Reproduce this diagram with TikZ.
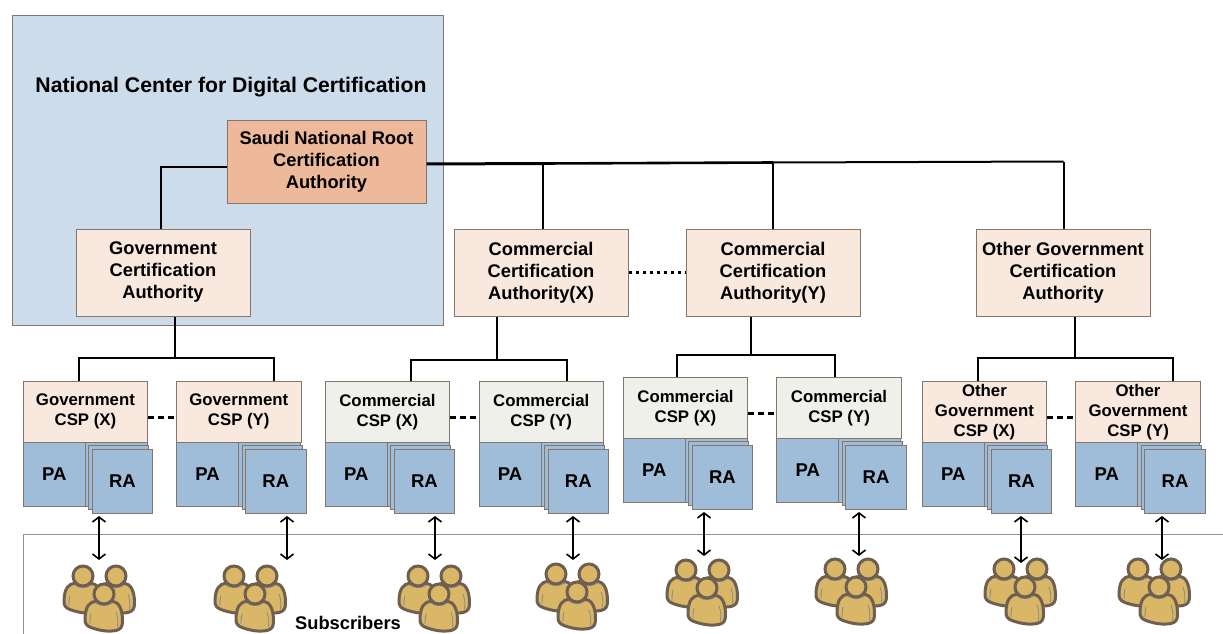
\documentclass[tikz,border=0pt]{standalone}
\usepackage{fontspec}
\setmainfont{Liberation Sans}
\usepackage{xcolor}
\usetikzlibrary{arrows.meta}
\usetikzlibrary{calc}
\definecolor{myedge}{HTML}{85766C}
\definecolor{myframe}{HTML}{9C8F87}
\definecolor{mycenter}{HTML}{CCDCEB}
\definecolor{myroot}{HTML}{EDB99A}
\definecolor{mypeach}{HTML}{F9E8DE}
\definecolor{mygrey}{HTML}{EFF0EA}
\definecolor{myblue}{HTML}{9FBDD8}
\definecolor{myuser}{HTML}{D9B766}
\definecolor{myuseredge}{HTML}{6E5F50}
\definecolor{mycrease}{HTML}{7F8C90}
\tikzset{every text node part/.style={align=center, font={\fontsize{18.3}{22}\selectfont\bfseries}}}
\tikzstyle{block} = [draw=myedge, fill=mypeach, inner sep=0pt, line width=1pt, minimum width=174pt, minimum height=87pt]
\tikzstyle{cspbox} = [draw=myedge, inner sep=0pt, line width=1pt, anchor=north west, minimum width=124.5pt, minimum height=60.5pt, every text node part/.append style={font={\fontsize{16.8}{20}\selectfont\bfseries}}]
\tikzstyle{agent} = [draw=myedge, fill=myblue, inner sep=0pt, line width=1pt, anchor=north west, every text node part/.append style={font={\fontsize{18.5}{20}\selectfont\bfseries}}]
\tikzstyle{ln} = [draw, line width=2pt]
\tikzstyle{peer} = [draw, line width=3pt, dash pattern=on 6pt off 4pt]
\tikzstyle{both} = [draw, line width=1.6pt, {Straight Barb[length=5pt,width=13pt]}-{Straight Barb[length=5pt,width=13pt]}, shorten <=2pt]
\tikzset{
  person/.pic={
    \path[draw=myuseredge, fill=myuser, line width=3pt, line join=round]
      (-8,7) .. controls (-15,8) and (-18.5,13) .. (-19,24)
      .. controls (-19.5,30) and (-17,32) .. (-13,33.5)
      .. controls (-5,36.5) and (4,38) .. (12,36.5)
      .. controls (17,35) and (18.5,33) .. (18.5,27)
      .. controls (18.5,15) and (15,8) .. (8,7) -- cycle;
    \draw[mycrease, line width=.8pt] (-8.5,9) .. controls (-3,12.5) and (3,12.5) .. (8.5,9);
    \draw[mycrease, line width=.8pt] (12,18) .. controls (14,23) and (14,28) .. (13.5,33);
    \draw[mycrease, line width=.8pt] (-13,20) .. controls (-14,24) and (-14,27) .. (-14,30);
    \path[draw=myuseredge, fill=myuser, line width=3pt] (0,0) circle (10);
  },
  users/.pic={
    \pic at (-21,-18) {person};
    \pic at (12,-18) {person};
    \pic at (0,0) {person};
  }
}
\begin{document}
\begin{tikzpicture}[x=1pt, y=-1pt]
  \useasboundingbox (0,0) rectangle (1223,634);
  \draw[draw=myframe, line width=1pt] (1224,534) -- (23,534) -- (23,635);
  \node[draw=myedge, fill=mycenter, line width=1pt, inner sep=0pt, anchor=north west, minimum width=431pt, minimum height=310pt] (center) at (12,15) {};
  \node[inner sep=0pt, every text node part/.append style={font={\fontsize{21.2}{26}\selectfont\bfseries}}] (centertitle) at (231,87) {National Center for Digital Certification};
  \node[block, fill=myroot, minimum width=199pt, minimum height=83pt] (root) at (326.5,161.5) {Saudi National Root\\Certification\\Authority};
  \node[block] (govca) at (163,272.5) {Government\\Certification\\Authority};
  \node[block] (comxca) at (541,272.5) {Commercial\\Certification\\Authority(X)};
  \node[block] (comyca) at (773,272.5) {Commercial\\Certification\\Authority(Y)};
  \node[block] (otherca) at (1063,272.5) {Other Government\\Certification\\Authority};
  \foreach \n/\x/\y/\c/\t in {
    a/22.7/381/mypeach/{Government\\CSP (X)},
    b/176/381/mypeach/{Government\\CSP (Y)},
    c/324.7/381/mygrey/{Commercial\\CSP (X)},
    d/478.5/381/mygrey/{Commercial\\CSP (Y)},
    e/622.7/377/mygrey/{Commercial\\CSP (X)},
    f/776.3/377/mygrey/{Commercial\\CSP (Y)},
    g/921.7/381/mypeach/{Other\\Government\\CSP (X)},
    h/1075.3/381/mypeach/{Other\\Government\\CSP (Y)}} {
    \node[cspbox, fill=\c] (csp\n) at (\x,\y) {\t};
    \node[agent, minimum width=62pt, minimum height=64.5pt] (pa\n) at (\x,\y+60.5) {PA};
    \node[agent, minimum width=62pt, minimum height=64pt] (raback\n) at (\x+62,\y+60.5) {};
    \node[agent, minimum width=60pt, minimum height=64pt] (ramid\n) at (\x+65.5,\y+64) {};
    \node[agent, minimum width=60.5pt, minimum height=64pt] (ra\n) at (\x+69,\y+68) {RA};
  }
  \draw[ln] ([yshift=-5.5pt]root.west) -| (161,229) coordinate (govtop);
  \coordinate (roota) at (543,163.5);
  \coordinate (rootb) at (773,162.5);
  \coordinate (rootc) at (1063.5,161.5);
  \draw[line width=3pt] ([yshift=-2.5pt]root.east) -- (roota);
  \draw[line width=2.6pt] (roota) -- (rootb);
  \draw[ln] (rootb) -- (rootc);
  \draw[ln] (roota) -- (roota |- comxca.north);
  \draw[ln] (rootb) -- (rootb |- comyca.north);
  \draw[ln] (rootc) -- (rootc |- otherca.north);
  \draw[peer, dash pattern=on 3.5pt off 3.5pt] (comxca) -- (comyca);
  \coordinate (busa) at (175,358);
  \coordinate (busb) at (497,359.5);
  \coordinate (busc) at (751,355);
  \coordinate (busd) at (1075,358);
  \draw[ln] (busa |- govca.south) -- (busa);
  \draw[ln] (busb |- comxca.south) -- (busb);
  \draw[ln] (busc |- comyca.south) -- (busc);
  \draw[ln] (busd |- otherca.south) -- (busd);
  \draw[ln] ([xshift=-6pt]cspa.north) |- (busa) -| ([xshift=35pt]cspb.north);
  \draw[ln] ([xshift=24pt]cspc.north) |- (busb) -| ([xshift=26pt]cspd.north);
  \draw[ln] ([xshift=-8pt]cspe.north) |- (busc) -| ([xshift=-4pt]cspf.north);
  \draw[ln] ([xshift=-6pt]cspg.north) |- (busd) -| ([xshift=35pt]csph.north);
  \draw[peer] ([yshift=-6pt]cspa.east) -- ([yshift=-6pt]cspb.west);
  \draw[peer] ([yshift=-6pt]cspc.east) -- ([yshift=-6pt]cspd.west);
  \draw[peer] ([yshift=-6pt]cspe.east) -- ([yshift=-6pt]cspf.west);
  \draw[peer] ([yshift=-6pt]cspg.east) -- ([yshift=-6pt]csph.west);
  \foreach \n/\x/\e/\ux/\uy in {a/99/560/104/594, b/287/560/255/594, c/435/560/439/594, d/573/560/577/592,
    e/704/556/707/588, f/859/556/856/587, g/1021/563/1025/587, h/1162/560/1159/587} {
    \coordinate (sub\n) at (\x,\e);
    \draw[both] (sub\n |- ra\n.south) -- (sub\n);
    \pic at (\ux,\uy) {users};
  }
  \node[inner sep=0pt] (subscribers) at (348,623) {Subscribers};
\end{tikzpicture}
\end{document}
